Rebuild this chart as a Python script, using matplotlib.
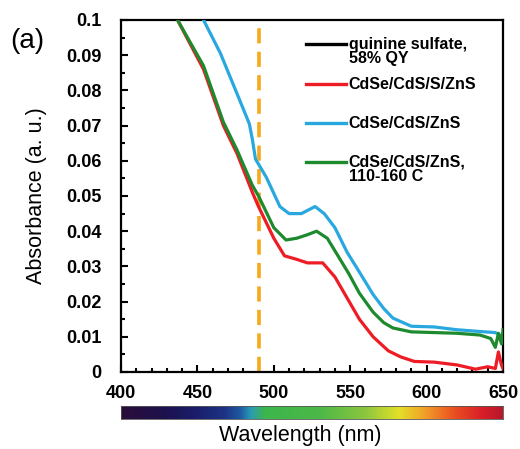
import numpy as np
import matplotlib
matplotlib.use("Agg")
import matplotlib.pyplot as plt
from matplotlib.colors import LinearSegmentedColormap

plt.rcParams["font.family"] = ["Liberation Sans", "DejaVu Sans"]

# ── data ─────────────────────────────────────────────────────
wl_red = [430, 437, 454, 467, 476, 486, 490, 500, 507, 515, 522, 532, 540, 548, 556, 565,
          575, 583, 592, 605, 620, 632, 640, 645, 647, 649, 650]
abs_red = [0.107, 0.100, 0.086, 0.070, 0.062, 0.051, 0.047, 0.038, 0.033, 0.032, 0.031, 0.031,
           0.027, 0.021, 0.015, 0.010, 0.006, 0.0043, 0.003, 0.0028, 0.002, 0.0008, 0.0015,
           0.001, 0.0057, 0.002, 0.001]

wl_green = [430, 437, 454, 467, 476, 486, 490, 500, 508, 515, 522, 528, 535, 542, 549, 556,
            565, 572, 578, 590, 605, 620, 635, 642, 645, 647, 649, 650]
abs_green = [0.107, 0.100, 0.087, 0.071, 0.063, 0.053, 0.050, 0.041, 0.0375, 0.038, 0.039,
             0.040, 0.038, 0.033, 0.028, 0.0224, 0.017, 0.014, 0.0125, 0.0114, 0.0112, 0.011,
             0.0105, 0.0095, 0.007, 0.011, 0.008, 0.012]

wl_blue = [448, 454, 465, 476, 484, 486, 488, 495, 504, 510, 518, 527, 533, 540, 548, 556,
           565, 572, 578, 590, 605, 620, 635, 645, 650]
abs_blue = [0.107, 0.100, 0.0906, 0.079, 0.0705, 0.066, 0.0605, 0.0554, 0.047, 0.045, 0.045,
            0.047, 0.045, 0.041, 0.034, 0.0284, 0.022, 0.018, 0.0153, 0.013, 0.0128, 0.012,
            0.0115, 0.0112, 0.010]

series = [
    ("quinine sulfate,\n58% QY", None, None, "#000000"),
    ("CdSe/CdS/S/ZnS", wl_red, abs_red, "#ee1c25"),
    ("CdSe/CdS/ZnS", wl_blue, abs_blue, "#29a8e0"),
    ("CdSe/CdS/ZnS,\n110-160 C", wl_green, abs_green, "#1e8a2e"),
]
legend_y = [0.932, 0.818, 0.707, 0.597]

marker_wl = 490

# colour bar stops (wavelength -> colour)
cb_wl = [400, 430, 450, 468, 478, 485, 494, 530, 560, 582, 595, 604, 620, 637, 650]
cb_col = ["#2a0d38", "#1c1250", "#1a1e6c", "#1e3486", "#1e5aa2", "#2a9cb4", "#3cb64c",
          "#4cb848", "#8cc63f", "#e2e028", "#f0b028", "#f08a28", "#e84a20", "#d81e28", "#b8182a"]

# ── figure ───────────────────────────────────────────────────
fig = plt.figure(figsize=(5.2, 4.49), dpi=100)
ax = fig.add_axes([121 / 520, 77 / 449, 382 / 520, 352 / 449])

for label, x, y, c in series:
    if x is not None:
        ax.plot(x, y, color=c, lw=2.3, solid_joinstyle="round", zorder=3)

ax.axvline(marker_wl, color="#f7a81b", lw=2.6, dashes=(4.2, 2.3), zorder=2)

ax.set_xlim(400, 650)
ax.set_ylim(0, 0.1)
ax.set_yticks(np.arange(0, 0.101, 0.01))
ax.set_yticklabels(["0"] + [f"{v:.2f}" for v in np.arange(0.01, 0.095, 0.01)] + ["0.1"])
ax.set_yticks(np.arange(0, 0.1, 0.005), minor=True)
ax.set_xticks(np.arange(400, 651, 50))
ax.set_xticks(np.arange(400, 651, 10), minor=True)
ax.tick_params(which="both", direction="in", width=1.5, color="black")
ax.tick_params(which="major", length=5, labelsize=13)
ax.tick_params(which="minor", length=3)
for lab in ax.get_xticklabels() + ax.get_yticklabels():
    lab.set_fontweight("bold")
ax.tick_params(axis="y", pad=14)
ax.tick_params(axis="x", pad=9)
for s in ax.spines.values():
    s.set_linewidth(1.6)

ax.set_ylabel("Absorbance (a. u.)", fontsize=15.5, labelpad=14)

# legend drawn by hand so the line sits on the first text line
for (label, x, y, c), ly in zip(series, legend_y):
    ax.plot([0.483, 0.59], [ly, ly], transform=ax.transAxes, color=c, lw=2.4)
    ax.text(0.596, ly + 0.021, label, transform=ax.transAxes, fontsize=11.5,
            fontweight="bold", va="top", ha="left", linespacing=0.98)

fig.text(10 / 520, 1 - 41 / 449, "(a)", fontsize=20, va="center", ha="left")

# colour bar under the axis
cax = fig.add_axes([121 / 520, 30 / 449, 382 / 520, 13 / 449])
pos = [(w - 400) / 250 for w in cb_wl]
cmap = LinearSegmentedColormap.from_list("spec", list(zip(pos, cb_col)))
cax.imshow(np.linspace(0, 1, 512)[None, :], aspect="auto", cmap=cmap,
           extent=[400, 650, 0, 1])
cax.set_xticks([])
cax.set_yticks([])
for s in cax.spines.values():
    s.set_linewidth(0.6)
    s.set_color("#555555")

fig.text(300 / 520, 1 - 436 / 449, "Wavelength (nm)", fontsize=15.5, ha="center", va="center")

fig.savefig("out.png", dpi=100)
